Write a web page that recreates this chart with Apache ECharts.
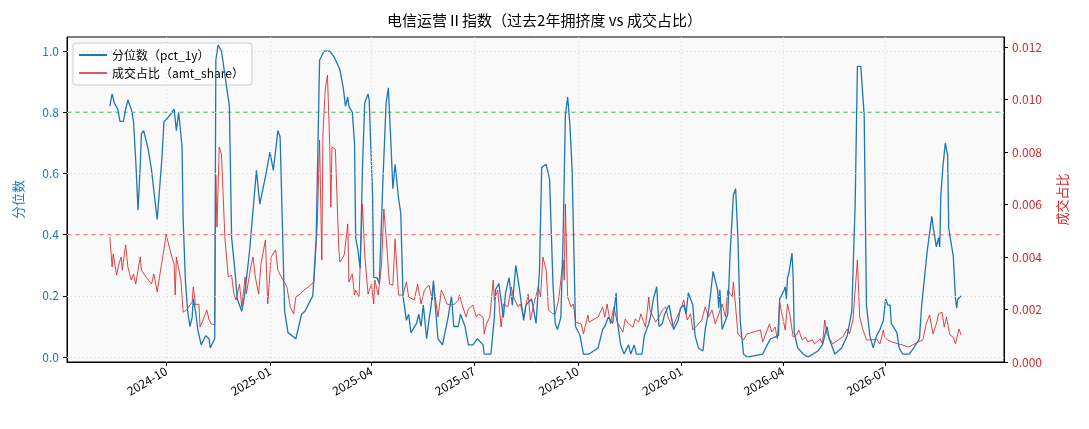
<!DOCTYPE html>
<html><head><meta charset="utf-8">
<script src="https://cdn.jsdelivr.net/npm/echarts@6/dist/echarts.min.js"></script>
<style>html,body{margin:0;padding:0;background:#fff}#c{width:1089px;height:429px}</style>
</head><body><div id="c"></div>
<script>
const START = '2024-08-12';
const pctDays = [0,2,4,7,9,12,14,16,19,21,23,25,27,28,30,34,37,41,42,46,48,51,55,57,59,61,64,65,67,69,71,73,74,76,78,81,85,88,89,93,94,96,99,106,108,111,113,117,119,121,124,130,133,138,142,145,149,151,155,158,165,170,173,180,183,186,190,195,199,204,207,209,211,212,215,217,218,220,222,224,226,229,230,233,234,237,239,242,245,247,249,251,253,256,258,260,263,265,267,272,274,276,278,281,283,285,287,289,291,295,300,303,305,309,311,315,318,322,326,331,332,338,341,342,345,349,351,354,357,360,363,367,369,374,378,381,383,387,390,393,395,397,400,402,404,406,408,410,413,417,420,425,433,437,439,442,446,449,450,453,456,460,462,465,467,472,474,478,480,482,485,487,490,492,496,497,500,504,506,509,511,513,517,519,522,526,528,531,535,539,540,541,543,548,550,553,555,557,559,562,565,579,583,586,593,594,597,599,600,601,602,605,606,607,610,615,619,628,632,636,638,643,649,654,658,661,663,666,669,671,674,677,680,683,686,688,690,692,693,698,700,703,709,713,718,720,725,729,730,733,735,736,737,739,741,743,744,748,750,751,752,755];
const pctVals = [0.82,0.86,0.83,0.81,0.77,0.77,0.81,0.84,0.81,0.77,0.64,0.48,0.63,0.73,0.74,0.68,0.61,0.48,0.45,0.64,0.77,0.78,0.80,0.81,0.74,0.80,0.69,0.45,0.25,0.15,0.10,0.13,0.19,0.15,0.09,0.04,0.07,0.06,0.03,0.06,0.97,1.02,1.00,0.82,0.39,0.28,0.19,0.15,0.19,0.25,0.35,0.61,0.50,0.59,0.67,0.61,0.74,0.72,0.15,0.08,0.06,0.14,0.15,0.20,0.39,0.97,1.00,1.00,0.98,0.94,0.88,0.82,0.85,0.82,0.80,0.70,0.39,0.35,0.29,0.61,0.83,0.86,0.84,0.53,0.26,0.26,0.24,0.56,0.83,0.88,0.72,0.55,0.63,0.52,0.47,0.20,0.12,0.14,0.08,0.11,0.14,0.10,0.17,0.06,0.12,0.17,0.25,0.15,0.06,0.04,0.13,0.20,0.10,0.10,0.14,0.10,0.04,0.04,0.06,0.04,0.01,0.01,0.13,0.22,0.24,0.13,0.21,0.26,0.17,0.30,0.23,0.12,0.17,0.19,0.11,0.28,0.62,0.63,0.58,0.24,0.11,0.09,0.13,0.39,0.79,0.85,0.76,0.61,0.10,0.07,0.01,0.01,0.03,0.09,0.10,0.13,0.11,0.21,0.12,0.04,0.01,0.04,0.01,0.04,0.01,0.01,0.07,0.11,0.14,0.19,0.23,0.10,0.11,0.14,0.17,0.15,0.09,0.12,0.16,0.17,0.14,0.21,0.17,0.07,0.03,0.02,0.09,0.15,0.28,0.22,0.16,0.22,0.09,0.14,0.33,0.53,0.55,0.39,0.12,0.01,0.00,0.01,0.04,0.06,0.07,0.19,0.21,0.23,0.19,0.26,0.27,0.34,0.26,0.08,0.03,0.01,0.00,0.02,0.04,0.10,0.06,0.01,0.03,0.07,0.15,0.50,0.95,0.95,0.79,0.17,0.07,0.03,0.07,0.09,0.12,0.19,0.17,0.17,0.11,0.08,0.03,0.01,0.01,0.03,0.06,0.17,0.35,0.46,0.43,0.36,0.39,0.36,0.53,0.63,0.70,0.66,0.42,0.33,0.19,0.16,0.19,0.20];
const shrDays = [0,2,3,6,8,10,11,14,16,19,21,23,27,28,32,37,39,42,45,50,55,57,58,59,63,65,68,73,74,76,79,80,83,86,88,90,93,94,95,97,99,102,105,108,110,112,115,117,120,121,125,127,129,132,134,138,140,143,147,149,152,157,160,163,165,169,172,176,181,184,186,188,189,191,193,195,196,197,200,203,204,207,208,211,212,215,217,218,221,224,226,229,232,234,235,238,241,243,245,248,251,253,256,260,263,265,270,273,276,279,283,286,287,291,294,296,299,303,306,309,310,313,316,318,322,325,327,331,332,334,337,340,341,344,347,349,353,356,358,362,364,367,371,373,376,380,382,384,387,389,393,395,398,402,403,404,406,409,411,413,418,420,424,425,433,437,439,441,444,447,450,455,457,460,464,466,469,471,475,478,479,484,487,490,493,495,499,503,506,509,512,515,517,522,525,528,531,534,537,540,543,546,548,552,553,555,557,562,565,577,579,583,585,587,590,592,594,596,599,601,603,606,609,611,614,617,619,623,625,630,632,634,636,639,641,646,650,654,656,659,661,663,665,668,671,676,680,683,686,687,690,694,699,703,708,712,717,721,724,727,730,733,735,738,740,742,745,748,750,753,755];
const shrVals = [0.00476,0.00362,0.00411,0.00331,0.00373,0.00400,0.00350,0.00446,0.00362,0.00312,0.00335,0.00297,0.00400,0.00350,0.00324,0.00297,0.00335,0.00267,0.00350,0.00484,0.00400,0.00373,0.00255,0.00400,0.00312,0.00190,0.00198,0.00229,0.00286,0.00217,0.00221,0.00133,0.00164,0.00198,0.00160,0.00145,0.00141,0.00712,0.00514,0.00819,0.00792,0.00476,0.00324,0.00331,0.00259,0.00236,0.00297,0.00210,0.00324,0.00259,0.00362,0.00400,0.00324,0.00259,0.00373,0.00465,0.00221,0.00400,0.00427,0.00350,0.00324,0.00286,0.00210,0.00183,0.00248,0.00259,0.00274,0.00286,0.00305,0.00526,0.00846,0.00389,0.00869,0.01036,0.01093,0.00830,0.00590,0.00819,0.00811,0.00438,0.00381,0.00400,0.00411,0.00526,0.00305,0.00335,0.00255,0.00274,0.00248,0.00602,0.00411,0.00259,0.00297,0.00221,0.00312,0.00255,0.00373,0.00583,0.00476,0.00297,0.00293,0.00469,0.00255,0.00255,0.00305,0.00248,0.00236,0.00297,0.00221,0.00274,0.00293,0.00236,0.00297,0.00171,0.00274,0.00255,0.00221,0.00217,0.00221,0.00236,0.00255,0.00210,0.00171,0.00202,0.00217,0.00171,0.00183,0.00171,0.00107,0.00145,0.00171,0.00312,0.00236,0.00274,0.00133,0.00221,0.00210,0.00286,0.00248,0.00210,0.00221,0.00171,0.00259,0.00160,0.00221,0.00286,0.00248,0.00400,0.00350,0.00198,0.00183,0.00183,0.00236,0.00389,0.00312,0.00602,0.00248,0.00210,0.00221,0.00152,0.00145,0.00107,0.00179,0.00152,0.00171,0.00210,0.00171,0.00221,0.00145,0.00210,0.00152,0.00114,0.00164,0.00145,0.00133,0.00164,0.00152,0.00183,0.00133,0.00248,0.00198,0.00152,0.00171,0.00198,0.00210,0.00171,0.00133,0.00171,0.00198,0.00236,0.00160,0.00183,0.00122,0.00145,0.00160,0.00210,0.00171,0.00198,0.00145,0.00183,0.00221,0.00171,0.00274,0.00248,0.00305,0.00210,0.00107,0.00084,0.00107,0.00122,0.00076,0.00122,0.00145,0.00114,0.00133,0.00088,0.00229,0.00183,0.00122,0.00221,0.00183,0.00095,0.00103,0.00122,0.00084,0.00095,0.00076,0.00084,0.00069,0.00088,0.00069,0.00160,0.00107,0.00084,0.00069,0.00084,0.00095,0.00126,0.00107,0.00160,0.00274,0.00389,0.00171,0.00122,0.00084,0.00084,0.00088,0.00069,0.00122,0.00095,0.00084,0.00076,0.00069,0.00065,0.00057,0.00065,0.00076,0.00084,0.00145,0.00179,0.00107,0.00145,0.00183,0.00190,0.00133,0.00171,0.00103,0.00095,0.00069,0.00126,0.00103];
const xTicks = ['2024-10-01','2025-01-01','2025-04-01','2025-07-01','2025-10-01','2026-01-01','2026-04-01','2026-07-01'];
const leftTicks = [0,0.2,0.4,0.6,0.8,1.0];
const HIGH = 0.8, LOW = 0.4;

const base = Date.parse(START + 'T00:00:00Z');
const DAY = 86400000;
const pctData = pctDays.map((d,i)=>[base+d*DAY, pctVals[i]]);
const shrData = shrDays.map((d,i)=>[base+d*DAY, shrVals[i]]);
const xTickTs = xTicks.map(s=>Date.parse(s+'T00:00:00Z'));
const XMIN = Date.parse('2024-07-05T00:00:00Z'), XMAX = Date.parse('2026-10-14T00:00:00Z');
const FONT = '"Noto Sans CJK SC","DejaVu Sans",sans-serif';
const BLUE = '#1f77b4', RED = '#d62728';

const chart = echarts.init(document.getElementById('c'), null, {renderer:'canvas'});
chart.setOption({
  animation:false,
  textStyle:{fontFamily:FONT},
  title:{text:'电信运营Ⅱ指数（过去2年拥挤度 vs 成交占比）', left:'center', top:8,
    textStyle:{fontFamily:FONT, fontSize:15, fontWeight:'normal', color:'#000'}},
  grid:{left:67, right:85, top:37, bottom:67, show:true, backgroundColor:'#f9f9f9', borderColor:'#000', borderWidth:1},
  legend:{left:73, top:43, orient:'vertical', itemGap:6, itemWidth:28, itemHeight:2,
    backgroundColor:'rgba(255,255,255,0.85)', borderColor:'#ccc', borderWidth:1, borderRadius:3, padding:[6,8,6,6],
    textStyle:{fontFamily:FONT, fontSize:12, color:'#000'},
    data:[{name:'分位数（pct_1y）', icon:'rect'},{name:'成交占比（amt_share）', icon:'rect'}]},
  xAxis:[
    {type:'time', min:XMIN, max:XMAX, axisLine:{show:false}, axisTick:{show:false}, axisLabel:{show:false}, splitLine:{show:false}},
    {type:'value', position:'bottom', min:XMIN, max:XMAX,
      axisLine:{lineStyle:{color:'#000'}},
      axisTick:{show:true, customValues:xTickTs, length:4, lineStyle:{color:'#000'}},
      axisLabel:{customValues:xTickTs, rotate:30, fontSize:12, color:'#000', fontFamily:FONT,
        formatter:v=>{const d=new Date(v);return d.getUTCFullYear()+'-'+String(d.getUTCMonth()+1).padStart(2,'0');}},
      splitLine:{show:false}}
  ],
  yAxis:[
    {type:'value', min:-0.016, max:1.046, position:'left',
      name:'分位数', nameLocation:'middle', nameGap:42, nameRotate:90,
      nameTextStyle:{color:BLUE, fontSize:13, fontFamily:FONT},
      axisLine:{show:true, lineStyle:{color:'#000'}},
      axisTick:{show:true, customValues:leftTicks, length:4, lineStyle:{color:'#000'}},
      axisLabel:{customValues:leftTicks, color:BLUE, fontSize:12, formatter:v=>v.toFixed(1)},
      splitLine:{show:false}},
    {type:'value', min:0, max:0.01238, interval:0.002, position:'right',
      name:'成交占比', nameLocation:'middle', nameGap:52, nameRotate:90,
      nameTextStyle:{color:RED, fontSize:13, fontFamily:FONT},
      axisLine:{show:true, lineStyle:{color:'#000'}},
      axisTick:{show:true, length:4, lineStyle:{color:'#000'}},
      axisLabel:{color:RED, fontSize:12, formatter:v=>v.toFixed(3)},
      splitLine:{show:false}}
  ],
  series:[
    {type:'line', name:'grid', xAxisIndex:1, yAxisIndex:0, data:[], silent:true,
      markLine:{symbol:'none', silent:true, label:{show:false},
        lineStyle:{color:'#d8d8d8', type:[1,3], width:1},
        data:leftTicks.map(v=>({yAxis:v})).concat(xTickTs.map(t=>({xAxis:t})))}},
    {type:'line', name:'分位数（pct_1y）', xAxisIndex:0, yAxisIndex:0, data:pctData, showSymbol:false,
      lineStyle:{color:BLUE, width:1.3}, itemStyle:{color:BLUE}, z:4},
    {type:'line', name:'成交占比（amt_share）', xAxisIndex:0, yAxisIndex:1, data:shrData, showSymbol:false,
      lineStyle:{color:RED, width:1, opacity:0.85}, itemStyle:{color:'#e05a5b'}, z:3},
    {type:'line', name:'hi', xAxisIndex:1, yAxisIndex:0, showSymbol:false, silent:true, z:2,
      data:[[XMIN,HIGH],[XMAX,HIGH]], lineStyle:{color:'#4caf50', type:[5,3], width:1}},
    {type:'line', name:'lo', xAxisIndex:1, yAxisIndex:0, showSymbol:false, silent:true, z:2,
      data:[[XMIN,LOW],[XMAX,LOW]], lineStyle:{color:'#f06060', type:[5,3], width:1}}
  ]
});
</script></body></html>
